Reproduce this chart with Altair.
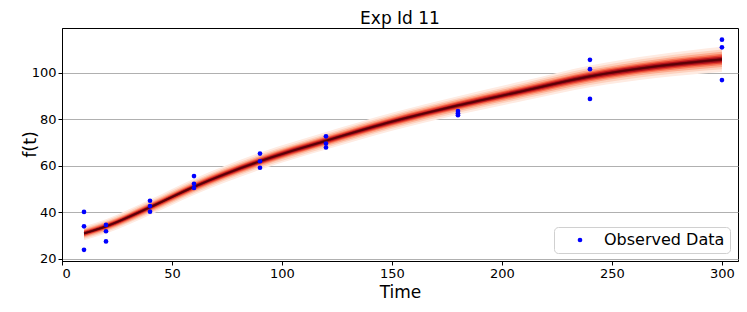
import altair as alt
import pandas as pd

# Observed data
obs_t = [10, 10, 10, 20, 20, 20, 40, 40, 40, 60, 60, 60, 90, 90, 90,
         120, 120, 120, 180, 180, 180, 240, 240, 240, 300, 300, 300]
obs_y = [40.2, 34.0, 23.9, 34.6, 31.9, 27.5, 45.0, 42.7, 40.3, 55.6, 52.3, 50.5,
         65.3, 62.0, 59.2, 72.7, 69.6, 67.9, 83.6, 82.6, 81.8, 105.6, 101.6, 88.8,
         114.3, 111.0, 96.9]

# Posterior curve (median) and band half-width
curve_t = [10, 20, 40, 60, 90, 120, 150, 180, 210, 240, 270, 300]
curve_med = [31.0, 34.0, 42.2, 51.0, 62.0, 70.8, 79.0, 86.0, 92.3, 98.5, 102.8, 105.8]
curve_hw = [3.0, 3.1, 3.3, 3.5, 3.7, 3.8, 3.9, 4.0, 4.3, 4.7, 5.0, 5.4]

band_levels = [1.0, 0.78, 0.6, 0.45, 0.33, 0.22, 0.12]
band_colors = ["#feebe2", "#fdd2bf", "#fcab8f", "#f9785a", "#e3412f", "#b5131b", "#7d0710"]

obs = pd.DataFrame({"t": obs_t, "y": obs_y, "series": ["Observed Data"] * len(obs_t)})
curve = pd.DataFrame({"t": curve_t, "med": curve_med, "hw": curve_hw})

xs = alt.Scale(domain=[0, 307.3], nice=False, zero=False)
ys = alt.Scale(domain=[19.1, 119.3], nice=False, zero=False)

x_axis = alt.Axis(title="Time", values=[0, 50, 100, 150, 200, 250, 300], grid=False,
                  labelFontSize=13, titleFontSize=17, titleFontWeight="normal",
                  tickSize=4, labelPadding=2, titlePadding=4, format="d")
y_axis = alt.Axis(title="f(t)", values=[20, 40, 60, 80, 100], grid=True,
                  gridColor="#b0b0b0", labelFontSize=13, titleFontSize=17.5,
                  titleFontWeight="normal", tickSize=4, labelPadding=2,
                  titleX=-32, titleY=116, titleBaseline="middle", titleAlign="center",
                  titleAngle=270)

layers = []
for i, (f, c) in enumerate(zip(band_levels, band_colors)):
    base = alt.Chart(curve).transform_calculate(
        lo=f"datum.med - datum.hw * {f}", hi=f"datum.med + datum.hw * {f}"
    ).mark_area(color=c, interpolate="monotone")
    if i == 0:
        layers.append(base.encode(x=alt.X("t:Q", scale=xs, axis=x_axis),
                                  y=alt.Y("lo:Q", scale=ys, axis=y_axis),
                                  y2="hi:Q"))
    else:
        layers.append(base.encode(x=alt.X("t:Q", scale=xs), y=alt.Y("lo:Q", scale=ys), y2="hi:Q"))

line = alt.Chart(curve).mark_line(color="#5a0008", strokeWidth=1.8, interpolate="monotone").encode(
    x=alt.X("t:Q", scale=xs), y=alt.Y("med:Q", scale=ys))

points = alt.Chart(obs).mark_circle(size=22, opacity=1).encode(
    x=alt.X("t:Q", scale=xs),
    y=alt.Y("y:Q", scale=ys),
    color=alt.Color("series:N", scale=alt.Scale(range=["#0000ff"]),
                    legend=alt.Legend(title=None, orient="bottom-right", offset=8,
                                      labelFontSize=16, symbolSize=22, symbolOffset=13,
                                      labelOffset=16, padding=5, fillColor="white",
                                      strokeColor="#d0d0d0", cornerRadius=4,
                                      symbolType="circle")))

chart = alt.layer(*layers, line, points).properties(
    width=676, height=233,
    title=alt.TitleParams("Exp Id 11", fontSize=17, fontWeight="normal", offset=0),
    autosize=alt.AutoSizeParams(type="none"),
    padding={"left": 54, "top": 20, "right": 1, "bottom": 43},
).configure(font="DejaVu Sans").configure_view(stroke="black", strokeWidth=1).configure_axis(
    domainColor="black", tickColor="black", labelColor="black", titleColor="black"
)

chart.save("out.html", embed_options={"renderer": "svg", "actions": False})
